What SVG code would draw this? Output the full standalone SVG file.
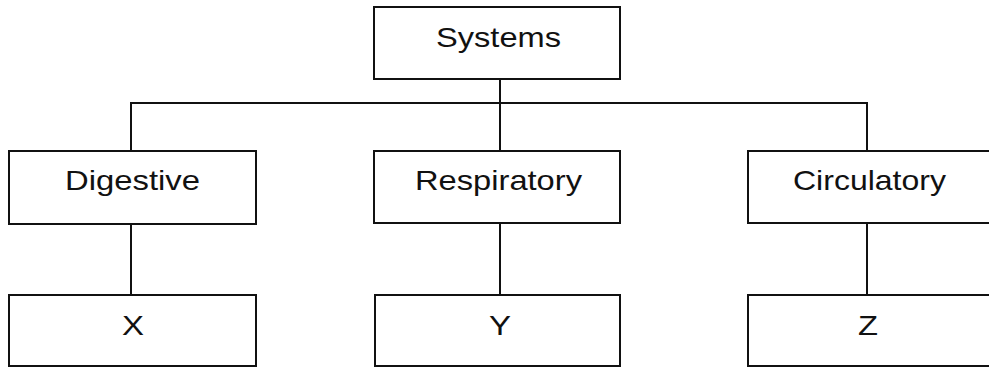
<svg xmlns="http://www.w3.org/2000/svg" width="989" height="368" viewBox="0 0 989 368">
<style>
.box{fill:#fff;stroke:#111;stroke-width:2}
.lbl{font-family:"Liberation Sans",Arial,sans-serif;font-size:28px;fill:#111;text-anchor:middle}
.con{fill:none;stroke:#111;stroke-width:2}
</style>
<rect width="989" height="368" fill="#fff"/>
<g id="connectors">
<path class="con" d="M500 79V151M131 151V103H867V151M131 224V295M500 223V295M867 223V295"/>
</g>
<g id="systems"><rect class="box" x="374" y="7" width="246" height="72"/><text class="lbl" x="498.5" y="47" textLength="125" lengthAdjust="spacingAndGlyphs">Systems</text></g>
<g id="digestive"><rect class="box" x="9" y="151" width="247" height="73"/><text class="lbl" x="132.5" y="190" textLength="135" lengthAdjust="spacingAndGlyphs">Digestive</text></g>
<g id="respiratory"><rect class="box" x="374" y="151" width="246" height="72"/><text class="lbl" x="498.5" y="190" textLength="167" lengthAdjust="spacingAndGlyphs">Respiratory</text></g>
<g id="circulatory"><rect class="box" x="748" y="151" width="250" height="72"/><text class="lbl" x="869.5" y="190" textLength="153" lengthAdjust="spacingAndGlyphs">Circulatory</text></g>
<g id="x"><rect class="box" x="9" y="295" width="247" height="71"/><text class="lbl" x="133" y="335" textLength="22" lengthAdjust="spacingAndGlyphs">X</text></g>
<g id="y"><rect class="box" x="375" y="295" width="245" height="71"/><text class="lbl" x="500" y="335" textLength="22" lengthAdjust="spacingAndGlyphs">Y</text></g>
<g id="z"><rect class="box" x="748" y="295" width="250" height="71"/><text class="lbl" x="868" y="335" textLength="20" lengthAdjust="spacingAndGlyphs">Z</text></g>
</svg>
